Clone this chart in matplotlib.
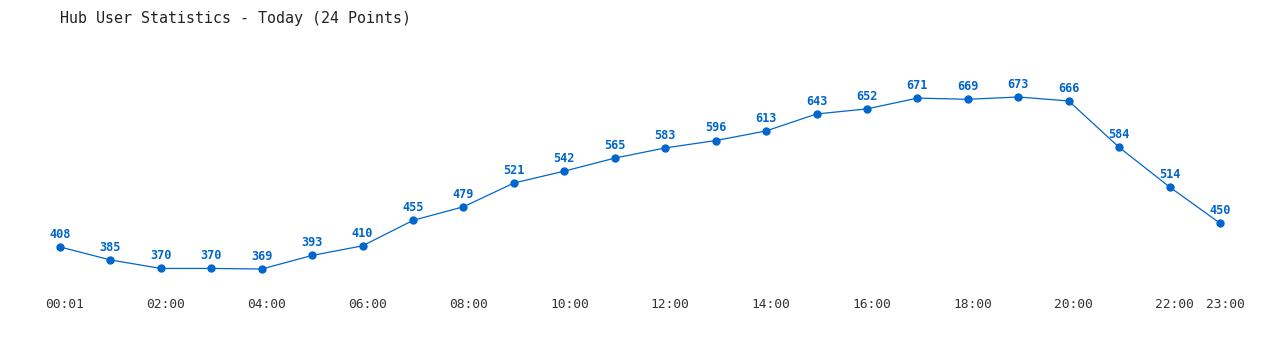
import matplotlib
matplotlib.use("Agg")
import matplotlib.pyplot as plt
import matplotlib.transforms as mtransforms

title = "Hub User Statistics - Today (24 Points)"
values = [408, 385, 370, 370, 369, 393, 410, 455, 479, 521, 542, 565,
          583, 596, 613, 643, 652, 671, 669, 673, 666, 584, 514, 450]
tick_positions = [0, 2, 4, 6, 8, 10, 12, 14, 16, 18, 20, 22, 23]
tick_labels = ["00:01", "02:00", "04:00", "06:00", "08:00", "10:00", "12:00",
               "14:00", "16:00", "18:00", "20:00", "22:00", "23:00"]

color = "#0066cc"
mono = ["DejaVu Sans Mono"]

fig = plt.figure(figsize=(12.8, 3.5), dpi=100)
ax = fig.add_axes([60/1280, 60/350, 1160/1280, 230/350])
x = list(range(len(values)))
ax.plot(x, values, color=color, lw=0.9, marker="o", markersize=5, clip_on=False)
for xi, v in zip(x, values):
    ax.annotate(str(v), (xi, v), xytext=(0, 4.5), textcoords="offset points",
                ha="center", va="bottom", color=color, fontsize=8.6,
                fontweight="bold", family=mono)
ax.set_xlim(0, 23)
ax.set_ylim(331.9, 738.4)
ax.set_xticks(tick_positions)
ax.set_xticklabels(tick_labels, family=mono, fontsize=9.3, color="#333333")
ax.tick_params(axis="x", length=0, pad=6)
offset = mtransforms.ScaledTranslation(5/100, 0, fig.dpi_scale_trans)
for lbl in ax.get_xticklabels():
    lbl.set_transform(lbl.get_transform() + offset)
ax.set_yticks([])
for s in ax.spines.values():
    s.set_visible(False)
fig.text(60/1280, 1 - 18/350, title, ha="left", va="center", family=mono,
         fontsize=10.8, color="#222222")
fig.savefig("out.png", dpi=100)
